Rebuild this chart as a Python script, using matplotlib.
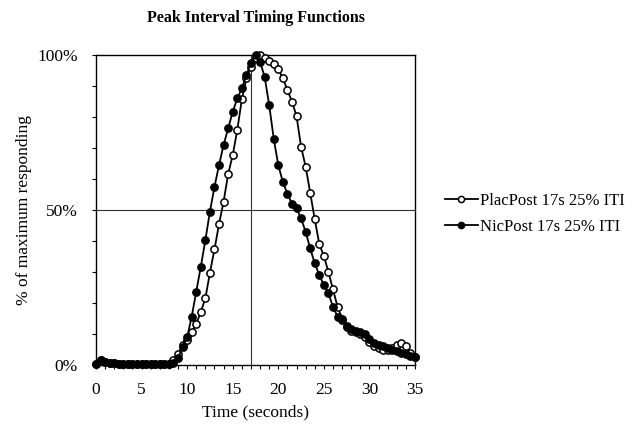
import matplotlib
matplotlib.use("Agg")
import matplotlib.pyplot as plt
import numpy as np
from matplotlib.ticker import MultipleLocator, FuncFormatter

# time in seconds (0.5 s bins)
time_s = [i * 0.5 for i in range(71)]

plac_post = [0.3, 1.5, 1.0, 0.7, 0.5, 0.4, 0.4, 0.3, 0.3, 0.3,   # 0-4.5
             0.3, 0.3, 0.3, 0.3, 0.3, 0.3, 0.4, 1.6, 3.5, 6.5,   # 5-9.5
             8.0, 10.7, 13.2, 17.2, 21.5, 29.8, 37.3, 45.5, 52.7, 61.6,  # 10-14.5
             67.7, 75.8, 85.7, 92.5, 96.2, 99.0, 100.0, 99.0, 98.0, 97.2,  # 15-19.5
             95.5, 92.5, 88.7, 85.0, 80.3, 70.4, 64.0, 55.6, 47.0, 39.0,  # 20-24.5
             35.2, 30.0, 24.4, 18.8, 15.0, 12.5, 11.0, 10.5, 10.0, 9.0,  # 25-29.5
             7.5, 6.0, 5.5, 5.0, 5.0, 5.5, 6.5, 7.0, 6.0, 4.0, 2.5]       # 30-35

nic_post = [0.3, 1.5, 1.0, 0.7, 0.5, 0.4, 0.4, 0.3, 0.3, 0.3,
            0.3, 0.3, 0.3, 0.3, 0.3, 0.3, 0.4, 0.8, 2.2, 5.9,
            9.0, 15.6, 23.7, 31.7, 40.3, 49.5, 57.5, 64.5, 71.0, 76.3,
            81.7, 86.0, 89.2, 93.5, 97.5, 100.0, 97.8, 93.0, 83.9, 73.0,
            64.5, 59.0, 55.3, 52.0, 50.5, 47.3, 43.0, 37.6, 32.8, 29.0,
            25.8, 23.1, 18.8, 15.6, 14.5, 12.4, 11.5, 11.0, 10.5, 10.0,
            8.5, 7.0, 6.5, 6.0, 5.5, 5.0, 4.5, 4.0, 3.5, 3.0, 2.5]

series_labels = ["PlacPost 17s 25% ITI", "NicPost 17s 25% ITI"]
x_ticks = [0, 5, 10, 15, 20, 25, 30, 35]
y_ticks = [0, 50, 100]
target_time = 17

serif = ["Liberation Serif", "DejaVu Serif"]
plt.rcParams["font.family"] = serif

fig = plt.figure(figsize=(6.44, 4.28), dpi=100)
ax = fig.add_axes([96/644, 1 - 365/428, (415 - 96)/644, (365 - 55)/428])

ax.axhline(50, color="#333333", lw=0.8, zorder=1)
ax.axvline(target_time, color="#333333", lw=0.8, zorder=1)

ax.plot(time_s, plac_post, "-o", color="black", lw=1.3, ms=5.2,
        mfc="white", mec="black", mew=1.1, label=series_labels[0], zorder=3,
        clip_on=False)
ax.plot(time_s, nic_post, "-o", color="black", lw=1.3, ms=5.2,
        mfc="black", mec="black", mew=1.1, label=series_labels[1], zorder=4,
        clip_on=False)

ax.set_xlim(0, 35)
ax.set_ylim(0, 100)
ax.set_xticks(x_ticks)
ax.xaxis.set_minor_locator(MultipleLocator(1))
ax.set_yticks(y_ticks)
ax.yaxis.set_minor_locator(MultipleLocator(10))
ax.yaxis.set_major_formatter(FuncFormatter(lambda v, p: f"{int(v)}%"))
ax.tick_params(axis="both", which="both", direction="out", length=3,
               width=0.8, labelsize=12.5)
ax.tick_params(axis="x", pad=9)
ax.tick_params(axis="y", pad=10)
for s in ax.spines.values():
    s.set_linewidth(1.0)

ax.set_title("Peak Interval Timing Functions", fontsize=11.5,
             fontweight="bold", pad=24)
ax.set_xlabel("Time (seconds)", fontsize=12.5, labelpad=5)
ax.set_ylabel("% of maximum responding", fontsize=12.5, labelpad=4)

leg = fig.legend(loc="upper left", bbox_to_anchor=(438/644, 1 - 186/428),
                 frameon=False, fontsize=12, handlelength=2.0,
                 handletextpad=0.15, labelspacing=0.6, borderaxespad=0,
                 markerscale=0.85)

fig.savefig("out.png", dpi=100)
